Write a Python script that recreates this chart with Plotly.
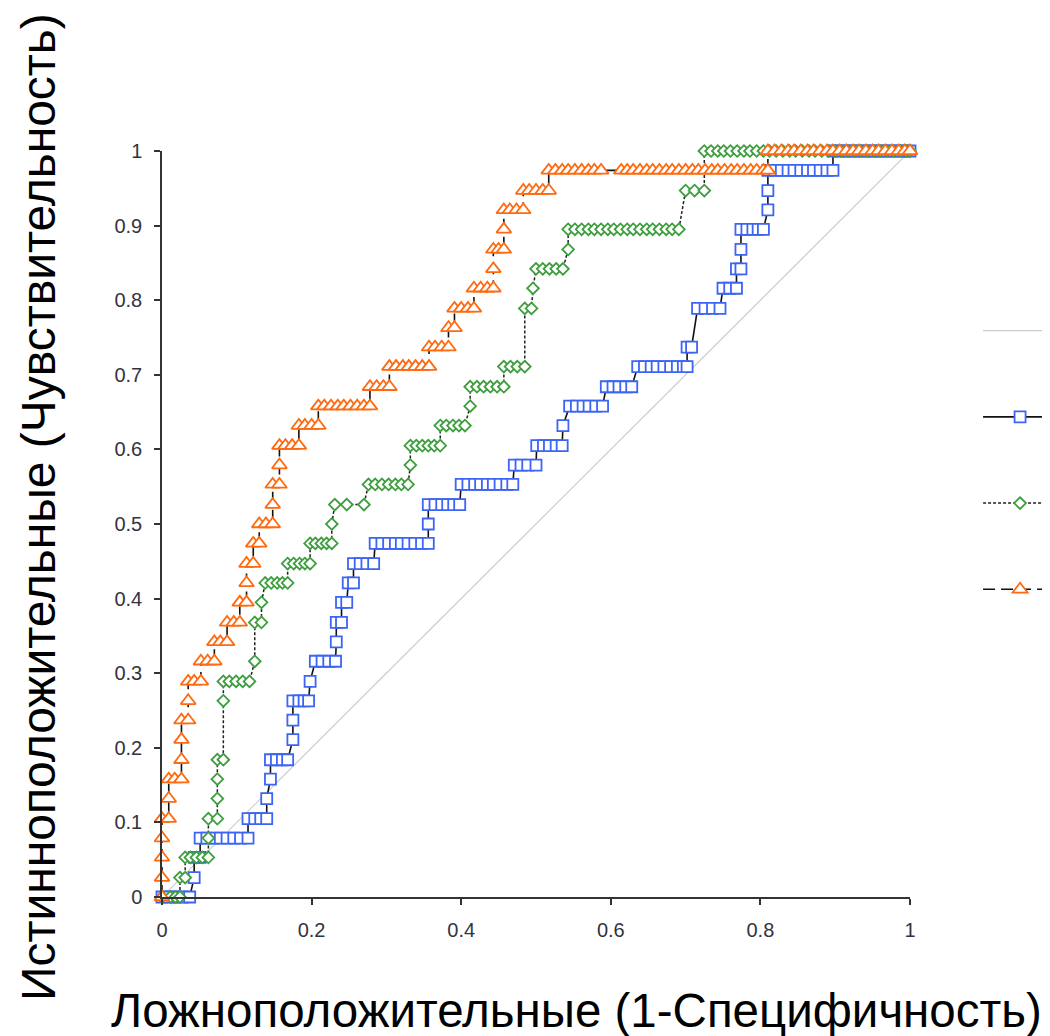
import plotly.graph_objects as go

# ---- data ----
# TPR levels (k/38) and the FPR positions of the points on each level
tpr_levels_blue = [0, 0.026, 0.053, 0.079, 0.105, 0.132, 0.158, 0.184, 0.211, 0.237,
                   0.263, 0.289, 0.316, 0.342, 0.368, 0.395, 0.421, 0.447, 0.474, 0.5,
                   0.526, 0.553, 0.579, 0.605, 0.632, 0.658, 0.684, 0.711, 0.737, 0.789,
                   0.816, 0.842, 0.868, 0.895, 0.921, 0.947, 0.974, 1.0]
fpr_runs_blue = [
    [0, 0.009, 0.018, 0.027, 0.037],
    [0.043],
    [0.043, 0.051],
    [0.051, 0.06, 0.069, 0.078, 0.087, 0.096, 0.105, 0.115],
    [0.115, 0.124, 0.132, 0.14],
    [0.14],
    [0.145],
    [0.145, 0.153, 0.161, 0.168],
    [0.175],
    [0.175],
    [0.175, 0.183, 0.19, 0.196],
    [0.198],
    [0.205, 0.214, 0.223, 0.232],
    [0.233],
    [0.233, 0.24],
    [0.24, 0.247],
    [0.249, 0.256],
    [0.256, 0.265, 0.274, 0.283],
    [0.285, 0.294, 0.303, 0.312, 0.32, 0.329, 0.338, 0.347, 0.356],
    [0.356],
    [0.356, 0.365, 0.374, 0.382, 0.39, 0.398],
    [0.4, 0.409, 0.418, 0.426, 0.435, 0.443, 0.452, 0.461, 0.469],
    [0.471, 0.48, 0.489, 0.5],
    [0.501, 0.51, 0.518, 0.527, 0.535],
    [0.536],
    [0.545, 0.554, 0.563, 0.571, 0.58, 0.589],
    [0.594, 0.603, 0.611, 0.62, 0.628],
    [0.636, 0.645, 0.654, 0.662, 0.671, 0.68, 0.689, 0.697, 0.702],
    [0.702, 0.708],
    [0.716, 0.726, 0.736, 0.746],
    [0.75, 0.759, 0.768],
    [0.768, 0.774],
    [0.774],
    [0.774, 0.782, 0.79, 0.797, 0.804],
    [0.81],
    [0.81],
    [0.81, 0.819, 0.828, 0.837, 0.845, 0.854, 0.863, 0.871, 0.88, 0.889, 0.897],
    [0.897, 0.906, 0.915, 0.924, 0.932, 0.941, 0.95, 0.958, 0.967, 0.976, 0.985, 0.993, 1.0],
]

tpr_levels_green = [0, 0.026, 0.053, 0.079, 0.105, 0.132, 0.158, 0.184, 0.263, 0.289,
                    0.316, 0.368, 0.395, 0.421, 0.447, 0.474, 0.5, 0.526, 0.553, 0.579,
                    0.605, 0.632, 0.658, 0.684, 0.711, 0.789, 0.816, 0.842, 0.868, 0.895,
                    0.947, 1.0]
fpr_runs_green = [
    [0, 0.011, 0.018, 0.024],
    [0.024, 0.031],
    [0.031, 0.038, 0.046, 0.054, 0.062],
    [0.062],
    [0.062, 0.074],
    [0.074],
    [0.074],
    [0.074, 0.082],
    [0.082],
    [0.082, 0.09, 0.099, 0.108, 0.117],
    [0.124],
    [0.124, 0.133],
    [0.133],
    [0.138, 0.146, 0.154, 0.161, 0.168],
    [0.168, 0.176, 0.184, 0.191, 0.198],
    [0.198, 0.205, 0.213, 0.22, 0.227],
    [0.227],
    [0.231, 0.247, 0.27],
    [0.276, 0.285, 0.294, 0.303, 0.312, 0.32, 0.329],
    [0.332],
    [0.332, 0.34, 0.348, 0.356, 0.364, 0.372],
    [0.372, 0.38, 0.389, 0.397, 0.405],
    [0.412],
    [0.412, 0.421, 0.43, 0.439, 0.448, 0.457],
    [0.457, 0.466, 0.475, 0.485],
    [0.485, 0.494],
    [0.496],
    [0.5, 0.509, 0.518, 0.527, 0.536],
    [0.543],
    [0.543, 0.552, 0.561, 0.57, 0.578, 0.587, 0.596, 0.604, 0.613, 0.622, 0.63,
     0.639, 0.648, 0.656, 0.665, 0.674, 0.682, 0.691],
    [0.7, 0.712, 0.725],
    [0.725, 0.734, 0.743, 0.751, 0.76, 0.769, 0.778, 0.786, 0.795, 0.804, 0.812,
     0.821, 0.83, 0.839, 0.847, 0.856, 0.865, 0.873, 0.882, 0.891, 0.9, 0.908,
     0.917, 0.926, 0.934, 0.943, 0.952, 0.96, 0.969, 0.978, 0.987, 0.995, 1.0],
]

tpr_levels_orange = [0, 0.026, 0.053, 0.079, 0.105, 0.132, 0.158, 0.184, 0.211, 0.237,
                     0.263, 0.289, 0.316, 0.342, 0.368, 0.395, 0.421, 0.447, 0.474, 0.5,
                     0.526, 0.553, 0.579, 0.605, 0.632, 0.658, 0.684, 0.711, 0.737, 0.763,
                     0.789, 0.816, 0.842, 0.868, 0.895, 0.921, 0.947, 0.974, 1.0]
fpr_runs_orange = [
    [0], [0], [0], [0],
    [0, 0.009],
    [0.009],
    [0.009, 0.017, 0.026],
    [0.026],
    [0.026],
    [0.026, 0.035],
    [0.035],
    [0.035, 0.043, 0.052],
    [0.052, 0.061, 0.07],
    [0.07, 0.078, 0.087],
    [0.087, 0.096, 0.104],
    [0.104, 0.113],
    [0.113],
    [0.113, 0.122],
    [0.122, 0.13],
    [0.13, 0.139, 0.148],
    [0.148],
    [0.148, 0.157],
    [0.157],
    [0.157, 0.165, 0.174, 0.183],
    [0.183, 0.191, 0.2, 0.209],
    [0.209, 0.217, 0.226, 0.235, 0.243, 0.252, 0.261, 0.27, 0.278],
    [0.278, 0.287, 0.296, 0.304],
    [0.304, 0.313, 0.322, 0.33, 0.339, 0.348, 0.357],
    [0.357, 0.365, 0.374, 0.383],
    [0.383, 0.391],
    [0.391, 0.4, 0.409, 0.417],
    [0.417, 0.426, 0.435, 0.443],
    [0.443],
    [0.443, 0.45, 0.457],
    [0.457],
    [0.457, 0.465, 0.474, 0.483],
    [0.483, 0.491, 0.5, 0.509, 0.517],
    [0.517, 0.526, 0.535, 0.543, 0.552, 0.561, 0.57, 0.578, 0.587, 0.614, 0.622,
     0.63, 0.639, 0.648, 0.656, 0.665, 0.674, 0.682, 0.691, 0.7, 0.709, 0.717,
     0.726, 0.735, 0.743, 0.752, 0.761, 0.769, 0.778, 0.787, 0.795, 0.804, 0.81],
    [0.81, 0.819, 0.828, 0.837, 0.845, 0.854, 0.863, 0.871, 0.88, 0.889, 0.897,
     0.906, 0.915, 0.924, 0.932, 0.941, 0.95, 0.958, 0.967, 0.976, 0.985, 0.993, 1.0],
]

diag_x = [0, 1]
diag_y = [0, 1]

series_names = ["Опорная линия", "Модель 1", "Модель 2", "Модель 3"]
x_title = "Ложноположительные (1-Специфичность)"
y_title = "Истинноположительные (Чувствительность)"


def expand(levels, runs):
    xs, ys = [], []
    for lvl, run in zip(levels, runs):
        for v in run:
            xs.append(v)
            ys.append(lvl)
    return xs, ys


bx, by = expand(tpr_levels_blue, fpr_runs_blue)
gx, gy = expand(tpr_levels_green, fpr_runs_green)
ox, oy = expand(tpr_levels_orange, fpr_runs_orange)

FONT = "Arial, 'Liberation Sans', sans-serif"
BLUE = "#3c64f5"
GREEN = "#3e9e3e"
ORANGE = "#ff6a10"

fig = go.Figure()
fig.add_trace(go.Scatter(x=diag_x, y=diag_y, mode="lines", name=series_names[0],
                         legendgroup="a",
                         line=dict(color="#cccccc", width=1.2), cliponaxis=False))
fig.add_trace(go.Scatter(x=bx, y=by, mode="lines+markers", name=series_names[1],
                         legendgroup="b",
                         line=dict(color="#111111", width=1.6),
                         marker=dict(symbol="square", size=11, color="white",
                                     line=dict(color=BLUE, width=1.8)),
                         cliponaxis=False))
fig.add_trace(go.Scatter(x=gx, y=gy, mode="lines+markers", name=series_names[2],
                         legendgroup="c",
                         line=dict(color="#222222", width=1.5, dash="3px,2px"),
                         marker=dict(symbol="diamond", size=9, color="white",
                                     line=dict(color=GREEN, width=1.8)),
                         cliponaxis=False))
fig.add_trace(go.Scatter(x=ox, y=oy, mode="lines+markers", name=series_names[3],
                         legendgroup="d",
                         line=dict(color="#111111", width=1.6, dash="12px,6px"),
                         marker=dict(symbol="triangle-up", size=13, color="white",
                                     line=dict(color=ORANGE, width=1.8)),
                         cliponaxis=False))

axis_common = dict(
    range=[0, 1], showgrid=False, zeroline=False, showline=True,
    linecolor="#333333", linewidth=1.5, ticks="outside", ticklen=6,
    tickwidth=1.5, tickcolor="#333333",
    tickfont=dict(family=FONT, size=20, color="#333340"),
    ticklabelstandoff=8,
)

fig.update_layout(
    width=1042, height=1028,
    margin=dict(l=154, r=140, t=143, b=139, autoexpand=False),
    paper_bgcolor="white", plot_bgcolor="white",
    showlegend=True,
    legend=dict(x=1.091, xanchor="left", y=0.78, yanchor="top",
                itemwidth=74, tracegroupgap=65,
                font=dict(family=FONT, size=14, color="#333333"),
                bgcolor="rgba(0,0,0,0)"),
    xaxis=dict(dtick=0.2, tick0=0, **axis_common),
    yaxis=dict(dtick=0.1, tick0=0, **axis_common),
    annotations=[
        dict(text=x_title, xref="paper", yref="paper", x=0.5535, y=0,
             xanchor="center", yanchor="middle", yshift=-113, showarrow=False,
             font=dict(family=FONT, size=47.5, color="black")),
        dict(text=y_title, xref="paper", yref="paper", x=0, y=0.5,
             xanchor="center", yanchor="middle", xshift=-124, yshift=17,
             textangle=-90, showarrow=False,
             font=dict(family=FONT, size=48, color="black")),
    ],
)

fig.write_html("out.html")
